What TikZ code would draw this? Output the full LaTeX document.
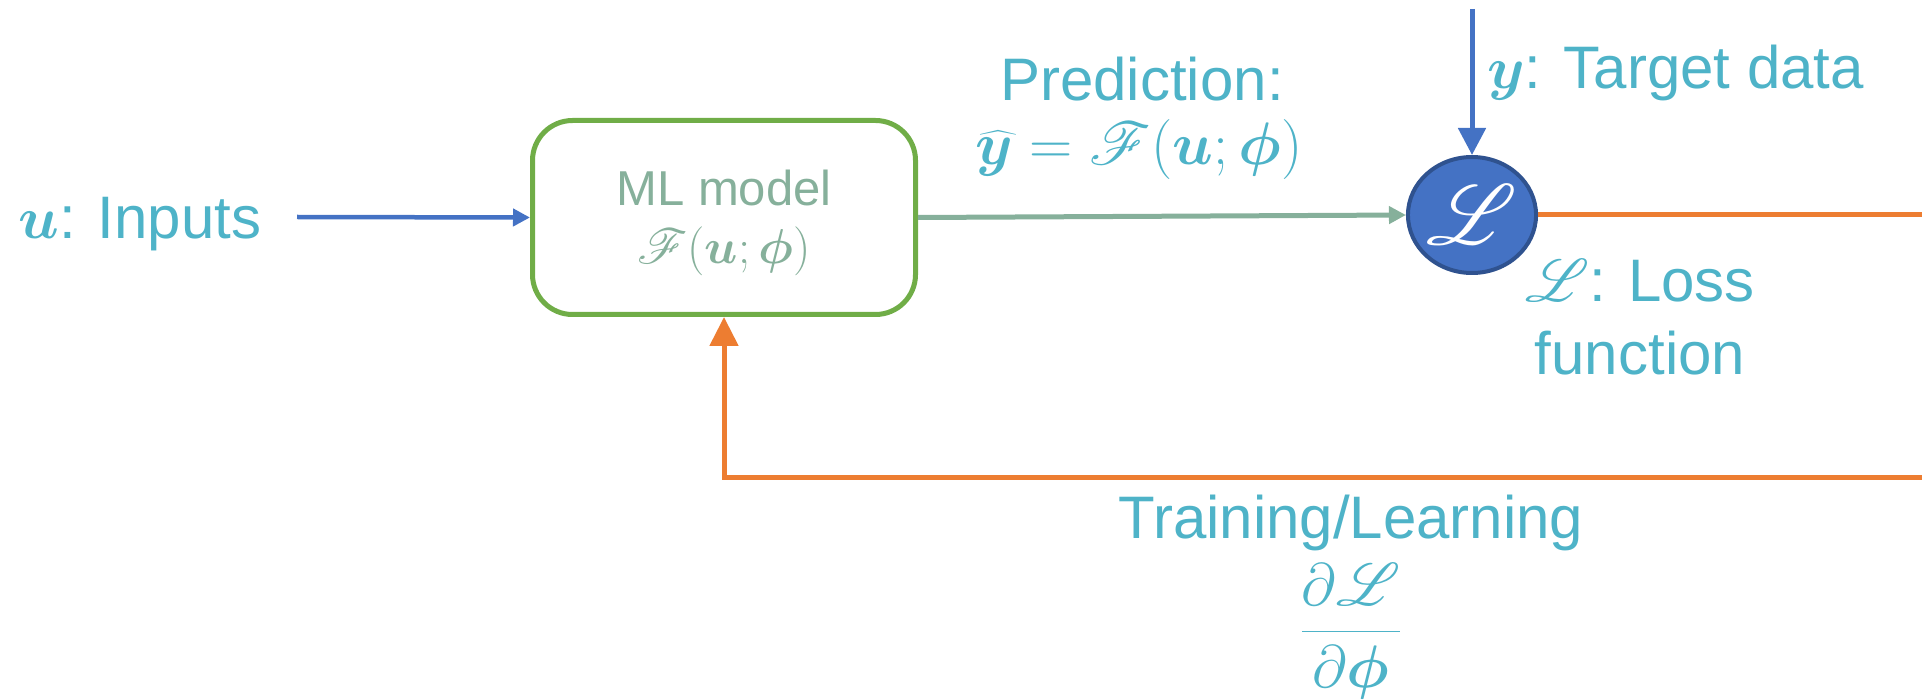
\RequirePackage{fix-cm}
\documentclass[tikz,border=0pt]{standalone}
\usepackage{amsmath,bm}
\usepackage{fontspec}
\setmainfont{Liberation Sans}
\DeclareFontFamily{U}{myrsfs}{\skewchar\font127 }
\DeclareFontShape{U}{myrsfs}{m}{n}{<-> rsfs10}{}
\DeclareMathAlphabet{\myscr}{U}{myrsfs}{m}{n}
\usetikzlibrary{arrows.meta,shapes.geometric}
\definecolor{txtc}{HTML}{4EB3C8}
\definecolor{mgreen}{HTML}{70AD47}
\definecolor{mtext}{HTML}{86B09B}
\definecolor{arrblue}{HTML}{4472C4}
\definecolor{lossblue}{HTML}{4472C4}
\definecolor{lossborder}{HTML}{2F528F}
\definecolor{fborange}{HTML}{ED7D31}
\begin{document}
\begin{tikzpicture}[x=1pt,y=-1pt,
  lbl/.style={text=txtc, font=\fontsize{60}{72}\selectfont, inner sep=0pt},
  model/.style={draw=mgreen, line width=5pt, rounded corners=40pt,
    minimum width=383pt, minimum height=194pt, text=mtext,
    font=\fontsize{49}{58}\selectfont, inner sep=0pt},
  loss/.style={ellipse, draw=lossborder, fill=lossblue, line width=4pt,
    minimum width=122pt, minimum height=116pt, text=white,
    font=\fontsize{85}{85}\selectfont, inner sep=0pt},
  inarrow/.style={draw=arrblue, line width=4.5pt, -{Triangle[length=17pt,width=17pt]}},
  predarrow/.style={draw=mtext, line width=5pt, -{Triangle[length=17pt,width=17pt]}},
  tgarrow/.style={draw=arrblue, line width=5pt, -{Triangle[length=27pt,width=27pt]}},
  fbarrow/.style={draw=fborange, line width=5pt, -{Triangle[length=29pt,width=28pt]}}
]
\useasboundingbox (0,0) rectangle (1922,700);
\clip (0,0) rectangle (1922,700);

\node[lbl, anchor=base west] (inlbl) at (18,239) {$\bm{u}$: Inputs};
\coordinate (instart) at (297,217);
\node[model] (model) at (724,217.5) {\raisebox{-5pt}[\height][\depth]{\begin{tabular}{@{}c@{}}ML model\\ $\myscr{F}(\bm{u};\bm{\phi})$\end{tabular}}};
\node[loss] (loss) at (1472,215) {$\myscr{L}$};
\coordinate (ytop) at (1472,9);
\coordinate (c1) at (1990,215);
\coordinate (c2) at (1990,477);
\coordinate (c3) at (724,477);

\node[lbl, anchor=base west] (ylbl) at (1487,89) {$\bm{y}$: Target data};
\node[lbl, anchor=base] (pred1) at (1142,101) {Prediction:};
\node[lbl, anchor=base] (pred2) at (1139,165) {$\widehat{\bm{y}}=\myscr{F}(\bm{u};\bm{\phi})$};
\node[lbl, anchor=base] (loss1) at (1640,302) {$\myscr{L}$: Loss};
\node[lbl, anchor=base] (loss2) at (1640,375) {function};
\node[lbl, anchor=base] (train) at (1351,538) {Training/Learning};
\node[lbl, anchor=base] (grad) at (1351,646) {$\dfrac{\partial\myscr{L}}{\partial\bm{\phi}}$};

\draw[inarrow] (instart) -- (model.west);
\draw[predarrow] (model.east) -- (loss.west);
\draw[tgarrow] (ytop) -- (loss.north);
\draw[fbarrow] (loss.east) -- (c1) -- (c2) -- (c3) -- (model.south);
\end{tikzpicture}
\end{document}
